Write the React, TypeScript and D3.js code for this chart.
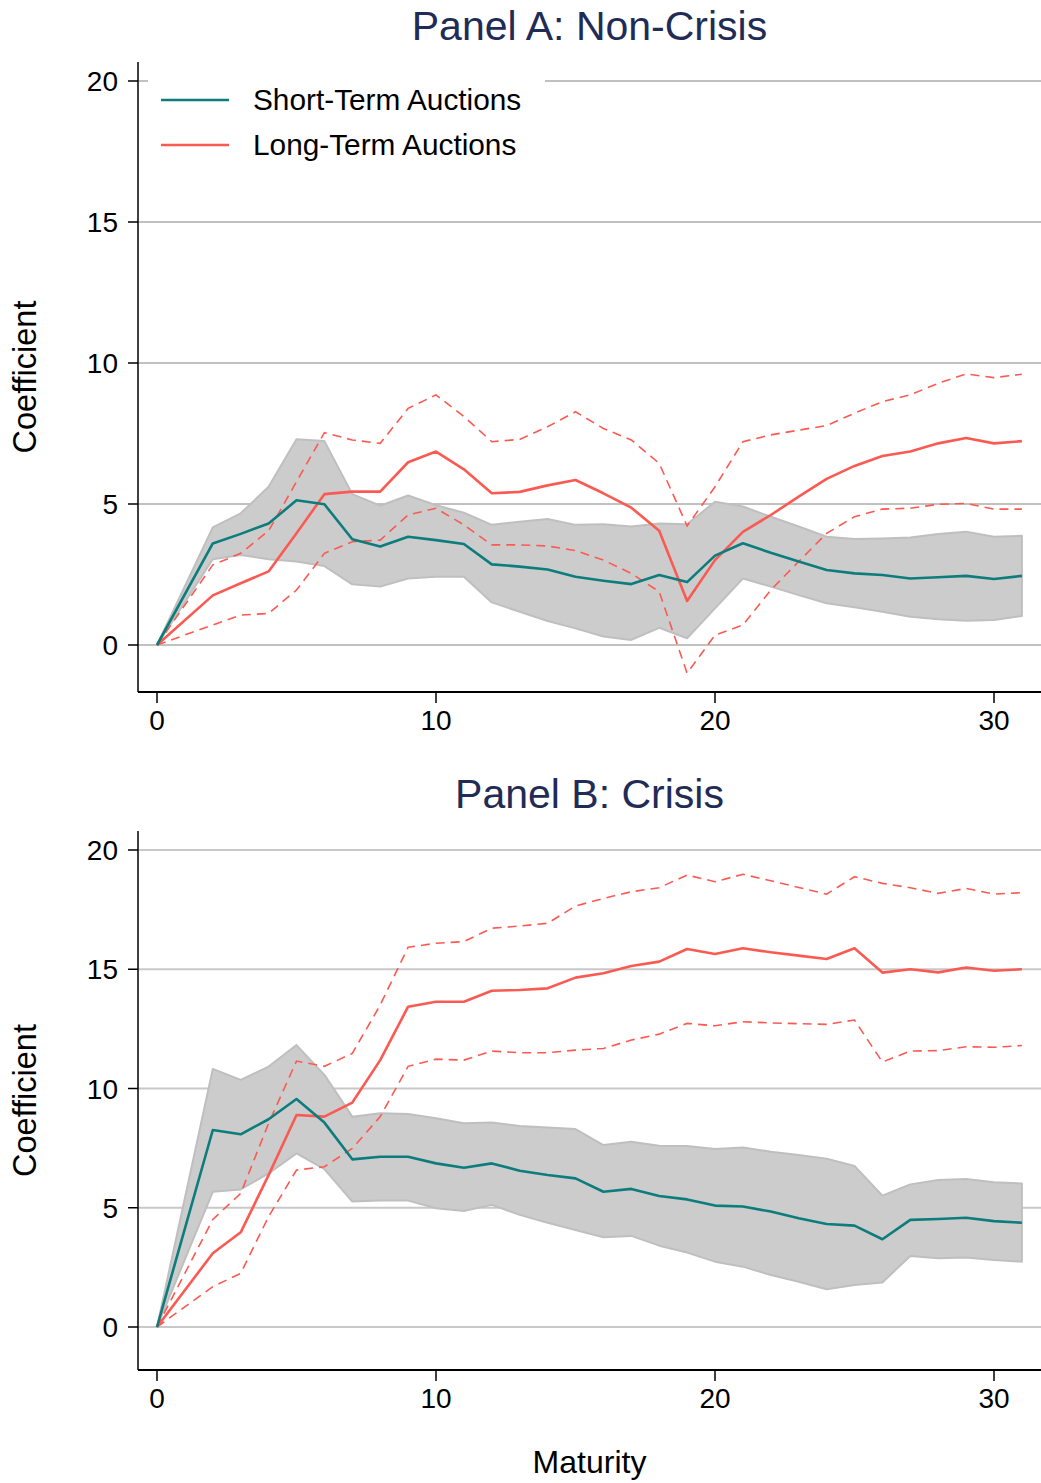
import React from "react";
import * as d3 from "d3";

// maturity grid (no estimate at 1)
const maturity = [0, 2, 3, 4, 5, 6, 7, 8, 9, 10, 11, 12, 13, 14, 15, 16, 17, 18, 19, 20, 21, 22, 23, 24, 25, 26, 27, 28, 29, 30, 31];

// Panel A: non-crisis
const shortA = [0, 3.6, 3.94, 4.31, 5.13, 4.99, 3.75, 3.49, 3.84, 3.72, 3.58, 2.86, 2.78, 2.68, 2.42, 2.28, 2.16, 2.48, 2.23, 3.17, 3.61, 3.27, 2.96, 2.66, 2.54, 2.48, 2.36, 2.4, 2.45, 2.34, 2.45];
const shortAHi = [0, 4.17, 4.67, 5.61, 7.3, 7.23, 5.35, 4.94, 5.3, 4.96, 4.69, 4.26, 4.37, 4.47, 4.26, 4.28, 4.2, 4.31, 4.28, 5.08, 4.91, 4.55, 4.2, 3.84, 3.76, 3.78, 3.81, 3.94, 4.02, 3.84, 3.87];
const shortALo = [0, 3.04, 3.19, 3.04, 2.96, 2.8, 2.15, 2.07, 2.36, 2.42, 2.42, 1.51, 1.18, 0.85, 0.59, 0.3, 0.18, 0.61, 0.24, 1.3, 2.36, 2.07, 1.77, 1.48, 1.34, 1.18, 1.0, 0.91, 0.86, 0.89, 1.03];
const longA = [0, 1.76, 2.19, 2.61, 3.96, 5.35, 5.44, 5.44, 6.48, 6.86, 6.23, 5.38, 5.43, 5.66, 5.85, 5.38, 4.87, 4.05, 1.56, 3.01, 4.01, 4.61, 5.26, 5.89, 6.35, 6.7, 6.86, 7.15, 7.34, 7.15, 7.23];
const longAHi = [0, 2.84, 3.25, 4.05, 5.79, 7.53, 7.27, 7.15, 8.39, 8.87, 8.1, 7.21, 7.29, 7.74, 8.27, 7.68, 7.27, 6.44, 4.22, 5.61, 7.21, 7.45, 7.62, 7.78, 8.22, 8.63, 8.87, 9.28, 9.61, 9.48, 9.6];
const longALo = [0, 0.71, 1.06, 1.12, 1.95, 3.25, 3.66, 3.72, 4.61, 4.85, 4.26, 3.55, 3.55, 3.51, 3.35, 3.01, 2.54, 1.89, -1.0, 0.35, 0.71, 1.95, 2.96, 3.96, 4.55, 4.82, 4.85, 4.99, 5.02, 4.82, 4.82];

// Panel B: crisis
const shortB = [0, 8.26, 8.08, 8.71, 9.56, 8.57, 7.03, 7.14, 7.14, 6.86, 6.68, 6.86, 6.55, 6.37, 6.23, 5.67, 5.79, 5.49, 5.35, 5.09, 5.05, 4.84, 4.56, 4.32, 4.25, 3.68, 4.49, 4.53, 4.58, 4.44, 4.37];
const shortBHi = [0, 10.82, 10.36, 10.92, 11.82, 10.57, 8.82, 8.96, 8.93, 8.75, 8.54, 8.57, 8.43, 8.36, 8.3, 7.63, 7.77, 7.6, 7.59, 7.46, 7.53, 7.35, 7.21, 7.06, 6.75, 5.51, 5.98, 6.16, 6.21, 6.07, 6.02];
const shortBLo = [0, 5.67, 5.77, 6.44, 7.28, 6.62, 5.26, 5.3, 5.3, 4.98, 4.86, 5.12, 4.7, 4.37, 4.07, 3.76, 3.82, 3.41, 3.12, 2.74, 2.53, 2.18, 1.9, 1.58, 1.76, 1.87, 2.98, 2.88, 2.91, 2.81, 2.74];
const longB = [0, 3.09, 3.97, 6.37, 8.89, 8.82, 9.41, 11.19, 13.43, 13.64, 13.64, 14.1, 14.13, 14.2, 14.65, 14.83, 15.14, 15.32, 15.85, 15.64, 15.88, 15.71, 15.57, 15.43, 15.88, 14.86, 15.0, 14.87, 15.07, 14.94, 15.0];
const longBHi = [0, 4.51, 5.6, 8.54, 11.15, 10.93, 11.47, 13.5, 15.92, 16.09, 16.16, 16.72, 16.81, 16.93, 17.65, 17.97, 18.25, 18.42, 18.95, 18.67, 18.98, 18.71, 18.43, 18.15, 18.88, 18.6, 18.42, 18.18, 18.39, 18.15, 18.21];
const longBLo = [0, 1.69, 2.25, 4.63, 6.58, 6.72, 7.49, 8.82, 10.93, 11.23, 11.19, 11.57, 11.5, 11.5, 11.61, 11.68, 12.03, 12.28, 12.73, 12.63, 12.8, 12.75, 12.72, 12.69, 12.87, 11.11, 11.57, 11.59, 11.75, 11.73, 11.8];

const yTicks = [0, 5, 10, 15, 20];
const xTicks = [0, 10, 20, 30];
const legendLabels = ["Short-Term Auctions", "Long-Term Auctions"];

const TEAL = "#0c7d7c";
const RED = "#fb5a52";
const NAVY = "#1f2c56";
const FONT = "'Liberation Sans', Arial, Helvetica, sans-serif";

const W = 1041;
const H = 1483;
const axisLeft = 138;
const axisRight = 1041;

const x = d3.scaleLinear().domain([0, 30]).range([157, 994]);

type PanelProps = {
  title: string;
  titleY: number;
  top: number;
  bottom: number;
  yRange: [number, number];
  short: number[];
  shortHi: number[];
  shortLo: number[];
  long: number[];
  longHi: number[];
  longLo: number[];
  grid: string;
  gridW: number;
  legend?: boolean;
};

function Panel(p: PanelProps) {
  const y = d3.scaleLinear().domain([0, 20]).range(p.yRange);
  const line = (vals: number[]) =>
    d3.line<number>().x((d) => x(d)).y((_, i) => y(vals[i]))(maturity) || "";
  const band =
    d3
      .area<number>()
      .x((d) => x(d))
      .y0((_, i) => y(p.shortLo[i]))
      .y1((_, i) => y(p.shortHi[i]))(maturity) || "";

  return (
    <g>
      <text x={(axisLeft + axisRight) / 2} y={p.titleY} textAnchor="middle" fontSize={41} fill={NAVY}>
        {p.title}
      </text>
      {yTicks.map((t) => (
        <line key={"g" + t} x1={axisLeft} x2={axisRight} y1={y(t)} y2={y(t)} stroke={p.grid} strokeWidth={p.gridW} />
      ))}
      {p.legend && (
        <g>
          <rect x={148} y={68} width={397} height={104} fill="#fff" />
          {legendLabels.map((lab, i) => (
            <g key={lab}>
              <line x1={161} x2={229} y1={100 + i * 45} y2={100 + i * 45} stroke={i === 0 ? TEAL : RED} strokeWidth={2.5} />
              <text x={253} y={100 + i * 45} dy="0.35em" fontSize={29.8} fill="#000">
                {lab}
              </text>
            </g>
          ))}
        </g>
      )}
      <path d={band} fill="#cccccc" stroke="#bfbfbf" strokeWidth={2} strokeLinejoin="round" />
      <path d={line(p.longHi)} fill="none" stroke={RED} strokeWidth={1.6} strokeDasharray="9,6" />
      <path d={line(p.longLo)} fill="none" stroke={RED} strokeWidth={1.6} strokeDasharray="9,6" />
      <path d={line(p.long)} fill="none" stroke={RED} strokeWidth={2.6} strokeLinejoin="round" />
      <path d={line(p.short)} fill="none" stroke={TEAL} strokeWidth={2.6} strokeLinejoin="round" />

      <line x1={axisLeft} x2={axisLeft} y1={p.top} y2={p.bottom} stroke="#000" strokeWidth={1.5} />
      {yTicks.map((t) => (
        <g key={"y" + t}>
          <line x1={axisLeft - 10} x2={axisLeft} y1={y(t)} y2={y(t)} stroke="#000" strokeWidth={1.5} />
          <text x={axisLeft - 20} y={y(t)} dy="0.36em" textAnchor="end" fontSize={28} fill="#000">
            {t}
          </text>
        </g>
      ))}
      <line x1={axisLeft} x2={axisRight} y1={p.bottom} y2={p.bottom} stroke="#000" strokeWidth={2} />
      {xTicks.map((t) => (
        <g key={"x" + t}>
          <line x1={x(t)} x2={x(t)} y1={p.bottom} y2={p.bottom + 11} stroke="#000" strokeWidth={1.5} />
          <text x={x(t)} y={p.bottom + 38} textAnchor="middle" fontSize={28} fill="#000">
            {t}
          </text>
        </g>
      ))}
      <text
        transform={`translate(36,${(p.top + p.bottom) / 2}) rotate(-90)`}
        textAnchor="middle"
        fontSize={32.5}
        fill="#000"
      >
        Coefficient
      </text>
    </g>
  );
}

export default function App() {
  return (
    <svg
      width={W}
      height={H}
      style={{ position: "absolute", left: 0, top: 0, background: "#fff" }}
      fontFamily={FONT}
    >
      <rect width={W} height={H} fill="#fff" />
      <Panel
        title="Panel A: Non-Crisis"
        titleY={40}
        top={62}
        bottom={692}
        yRange={[645, 81]}
        short={shortA}
        shortHi={shortAHi}
        shortLo={shortALo}
        long={longA}
        longHi={longAHi}
        longLo={longALo}
        grid="#acacac"
        gridW={1.3}
        legend
      />
      <Panel
        title="Panel B: Crisis"
        titleY={808}
        top={831}
        bottom={1370}
        yRange={[1327, 850]}
        short={shortB}
        shortHi={shortBHi}
        shortLo={shortBLo}
        long={longB}
        longHi={longBHi}
        longLo={longBLo}
        grid="#c8c8c8"
        gridW={2}
      />
      <text x={(axisLeft + axisRight) / 2} y={1473} textAnchor="middle" fontSize={32} fill="#000">
        Maturity
      </text>
    </svg>
  );
}
